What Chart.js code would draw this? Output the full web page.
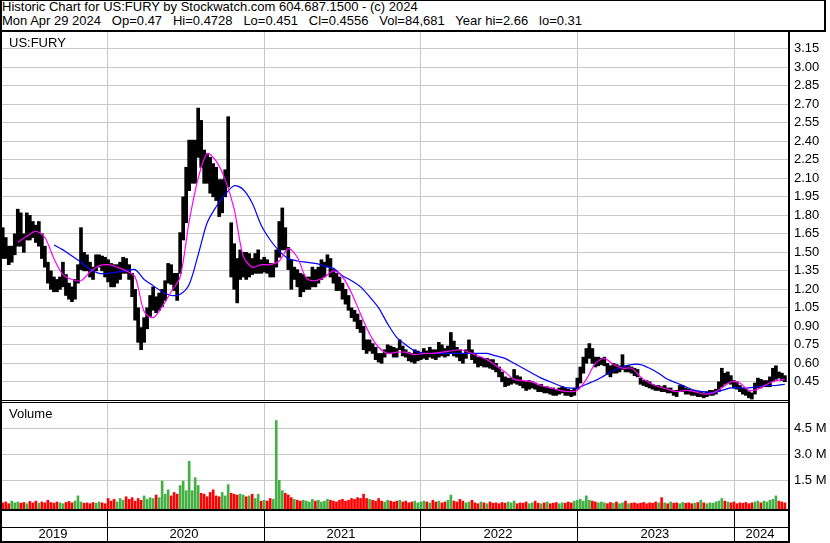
<!DOCTYPE html>
<html>
<head>
<meta charset="utf-8">
<script src="https://cdn.jsdelivr.net/npm/chart.js@4.4.1/dist/chart.umd.min.js"></script>
<style>
html,body{margin:0;padding:0;background:#fff;}
#wrap{position:relative;width:830px;height:543px;overflow:hidden;background:#fff;font-family:"Liberation Sans",Arial,sans-serif;}
.txt{position:absolute;font-size:13px;line-height:15px;white-space:pre;color:#000;}
.ln{position:absolute;background:#000;}
canvas{position:absolute;left:0;}
</style>
</head>
<body>
<div id="wrap">
  <canvas id="price" width="830" height="370" style="top:32px"></canvas>
  <canvas id="vol" width="830" height="142" style="top:401px"></canvas>
  <div class="txt" style="left:2px;top:-1px">Historic Chart for US:FURY by Stockwatch.com 604.687.1500 - (c) 2024</div>
  <div class="txt" style="left:2px;top:13px">Mon Apr 29 2024   Op=0.47   Hi=0.4728   Lo=0.451   Cl=0.4556   Vol=84,681   Year hi=2.66   lo=0.31</div>
  <div class="txt" style="left:9px;top:35px">US:FURY</div>
  <div class="txt" style="left:9px;top:406px">Volume</div>
  <!-- frame lines -->
  <div class="ln" style="left:0;top:0;width:2px;height:543px"></div>
  <div class="ln" style="left:0;top:0;width:826px;height:1px"></div>
  <div class="ln" style="left:824px;top:0;width:2px;height:32px"></div>
  <div class="ln" style="left:0;top:30px;width:826px;height:2px"></div>
  <div class="ln" style="left:788px;top:30px;width:2px;height:513px"></div>
  <div class="ln" style="left:0;top:400px;width:790px;height:1px"></div>
  <div class="ln" style="left:0;top:402px;width:790px;height:1px"></div>
  <div class="ln" style="left:0;top:509px;width:790px;height:2px"></div>
  <div class="ln" style="left:0;top:527px;width:790px;height:1px"></div>
  <div class="ln" style="left:0;top:541px;width:790px;height:2px"></div>
</div>
<script>
// ---------------- DATA ----------------
const firstWeek = [2019, 5, 3];          // first weekly bar (Y, M, D)
const weekCount = 261;

// weekly high / low prices (USD)
const priceHigh = [
1.70,1.62,1.55,1.55,1.65,1.85,1.82,1.65,1.82,1.80,
1.75,1.72,1.75,1.65,1.55,1.42,1.35,1.30,1.28,1.30,
1.42,1.32,1.25,1.22,1.28,1.40,1.70,1.50,1.48,1.42,
1.38,1.48,1.48,1.47,1.46,1.44,1.41,1.40,1.40,1.42,
1.46,1.45,1.40,1.33,1.20,1.05,0.89,0.97,1.05,1.15,
1.22,1.14,1.17,1.20,1.27,1.41,1.40,1.33,1.33,1.66,
1.95,2.19,2.41,2.41,2.41,2.67,2.57,2.33,2.30,2.27,
2.22,2.19,2.09,2.09,2.17,2.60,1.74,1.57,1.45,1.52,
1.50,1.50,1.49,1.45,1.49,1.52,1.44,1.46,1.44,1.41,
1.41,1.52,1.75,1.86,1.70,1.54,1.44,1.38,1.36,1.33,
1.32,1.30,1.30,1.38,1.36,1.38,1.44,1.42,1.48,1.45,
1.36,1.33,1.30,1.25,1.20,1.15,1.05,1.03,1.00,0.95,
0.90,0.79,0.79,0.76,0.73,0.68,0.68,0.71,0.75,0.74,
0.73,0.72,0.79,0.74,0.71,0.69,0.68,0.71,0.70,0.69,
0.72,0.70,0.73,0.71,0.71,0.77,0.75,0.72,0.74,0.85,
0.78,0.73,0.71,0.68,0.71,0.79,0.71,0.68,0.65,0.65,
0.64,0.64,0.63,0.63,0.60,0.57,0.53,0.49,0.48,0.48,
0.55,0.50,0.49,0.46,0.45,0.46,0.45,0.44,0.42,0.43,
0.41,0.41,0.40,0.40,0.39,0.40,0.41,0.40,0.39,0.38,
0.40,0.48,0.57,0.65,0.72,0.76,0.72,0.65,0.65,0.64,
0.65,0.60,0.58,0.60,0.59,0.58,0.67,0.58,0.58,0.57,
0.56,0.55,0.48,0.46,0.46,0.45,0.43,0.42,0.42,0.41,
0.42,0.40,0.40,0.38,0.38,0.42,0.42,0.40,0.39,0.38,
0.38,0.37,0.37,0.36,0.37,0.38,0.38,0.39,0.45,0.56,
0.52,0.53,0.50,0.46,0.45,0.42,0.40,0.39,0.37,0.36,
0.44,0.48,0.47,0.46,0.46,0.49,0.56,0.58,0.53,0.52,
0.50];
const priceLow = [
1.45,1.45,1.40,1.42,1.48,1.55,1.55,1.50,1.60,1.60,
1.62,1.58,1.55,1.45,1.38,1.25,1.20,1.18,1.18,1.20,
1.22,1.15,1.12,1.10,1.12,1.25,1.36,1.35,1.35,1.30,
1.28,1.35,1.38,1.35,1.30,1.26,1.22,1.22,1.25,1.28,
1.33,1.33,1.28,1.14,0.95,0.77,0.71,0.77,0.88,0.98,
1.03,1.01,1.03,1.06,1.11,1.25,1.24,1.19,1.11,1.33,
1.60,1.74,2.00,2.06,2.06,2.27,2.19,2.06,2.06,1.98,
1.95,1.92,1.79,1.82,1.95,2.03,1.30,1.20,1.09,1.28,
1.30,1.28,1.30,1.32,1.33,1.33,1.33,1.34,1.33,1.30,
1.30,1.38,1.46,1.52,1.52,1.36,1.20,1.28,1.22,1.14,
1.18,1.20,1.20,1.22,1.22,1.25,1.28,1.30,1.38,1.30,
1.25,1.19,1.19,1.12,1.08,1.03,0.97,0.94,0.88,0.85,
0.71,0.68,0.70,0.68,0.63,0.61,0.60,0.65,0.68,0.68,
0.65,0.65,0.71,0.66,0.65,0.62,0.61,0.60,0.62,0.63,
0.64,0.63,0.65,0.64,0.63,0.65,0.66,0.65,0.66,0.68,
0.66,0.65,0.62,0.60,0.64,0.68,0.63,0.60,0.57,0.58,
0.57,0.57,0.56,0.55,0.53,0.49,0.45,0.41,0.42,0.43,
0.44,0.43,0.42,0.40,0.38,0.39,0.40,0.39,0.37,0.37,
0.36,0.36,0.35,0.34,0.34,0.35,0.36,0.34,0.34,0.33,
0.34,0.39,0.44,0.52,0.60,0.64,0.60,0.57,0.58,0.59,
0.58,0.51,0.49,0.52,0.52,0.53,0.55,0.53,0.53,0.52,
0.50,0.49,0.43,0.42,0.41,0.40,0.39,0.38,0.38,0.37,
0.37,0.36,0.36,0.34,0.33,0.37,0.37,0.35,0.35,0.34,
0.34,0.33,0.33,0.32,0.33,0.34,0.34,0.35,0.37,0.41,
0.43,0.44,0.43,0.40,0.39,0.37,0.35,0.34,0.32,0.31,
0.35,0.40,0.40,0.41,0.41,0.41,0.45,0.47,0.48,0.46,
0.45];

// moving averages, sampled every 3 weeks
const maStep = 3;
const maFastStart = 5;
const maFast = [
1.58,1.63,1.67,1.62,1.45,1.32,1.28,1.27,1.34,1.39,
1.40,1.38,1.35,1.30,1.02,0.97,1.06,1.18,1.30,1.75,
2.10,2.30,2.24,2.09,1.85,1.47,1.38,1.40,1.40,1.43,
1.53,1.46,1.29,1.27,1.30,1.35,1.30,1.17,1.00,0.84,
0.73,0.68,0.69,0.69,0.67,0.68,0.68,0.69,0.70,0.71,
0.69,0.66,0.63,0.58,0.53,0.47,0.46,0.45,0.42,0.40,
0.38,0.37,0.38,0.47,0.60,0.64,0.59,0.56,0.56,0.49,
0.44,0.41,0.39,0.37,0.38,0.37,0.35,0.36,0.40,0.45,
0.44,0.38,0.39,0.43,0.46,0.47];
const maSlowStart = 17;
const maSlow = [
1.56,1.52,1.47,1.42,1.36,1.33,1.33,1.34,1.35,1.36,
1.28,1.23,1.18,1.15,1.16,1.24,1.48,1.74,1.87,1.97,
2.04,2.01,1.90,1.72,1.60,1.51,1.45,1.43,1.42,1.41,
1.39,1.37,1.31,1.27,1.22,1.14,1.05,0.92,0.81,0.75,
0.70,0.68,0.68,0.68,0.68,0.68,0.68,0.68,0.68,0.66,
0.64,0.60,0.56,0.52,0.48,0.45,0.42,0.40,0.40,0.43,
0.46,0.50,0.54,0.57,0.59,0.59,0.56,0.52,0.47,0.44,
0.41,0.38,0.37,0.36,0.38,0.40,0.40,0.40,0.41,0.42,
0.42,0.43];

// weekly volume (millions of shares)
const volume = [
0.20,0.25,0.15,0.30,0.20,0.25,0.18,0.22,0.15,0.28,
0.20,0.30,0.18,0.25,0.20,0.35,0.22,0.18,0.25,0.20,
0.15,0.22,0.28,0.20,0.30,0.60,0.25,0.18,0.20,0.15,
0.22,0.18,0.25,0.20,0.15,0.45,0.30,0.40,0.25,0.45,
0.35,0.55,0.40,0.50,0.30,0.45,0.35,0.60,0.40,0.50,
0.45,0.65,0.50,1.45,0.70,0.95,0.60,0.80,0.70,1.20,
1.45,0.90,2.60,0.90,1.65,1.20,0.75,0.70,0.55,0.80,
0.95,0.60,0.55,0.80,0.60,1.25,0.75,0.70,0.65,0.70,
0.65,0.55,0.60,0.70,0.45,0.70,0.30,0.35,0.30,0.45,
0.40,4.95,1.50,0.90,0.75,0.65,0.50,0.40,0.35,0.30,
0.35,0.30,0.25,0.40,0.30,0.35,0.25,0.30,0.40,0.35,
0.30,0.25,0.35,0.40,0.30,0.35,0.45,0.40,0.50,0.45,
0.70,0.45,0.40,0.35,0.30,0.45,0.30,0.25,0.35,0.30,
0.25,0.30,0.35,0.25,0.30,0.20,0.25,0.30,0.20,0.25,
0.30,0.25,0.20,0.35,0.25,0.30,0.20,0.25,0.35,0.65,
0.30,0.25,0.40,0.30,0.20,0.25,0.35,0.20,0.15,0.25,
0.20,0.15,0.25,0.18,0.20,0.15,0.22,0.18,0.25,0.20,
0.30,0.15,0.20,0.18,0.25,0.15,0.20,0.30,0.18,0.15,
0.20,0.25,0.15,0.18,0.22,0.15,0.20,0.18,0.25,0.20,
0.30,0.35,0.40,0.30,0.60,0.35,0.30,0.25,0.20,0.25,
0.20,0.15,0.22,0.18,0.25,0.15,0.20,0.30,0.15,0.18,
0.20,0.15,0.18,0.22,0.15,0.20,0.18,0.25,0.20,0.50,
0.20,0.15,0.25,0.18,0.20,0.15,0.22,0.18,0.20,0.15,
0.18,0.22,0.35,0.20,0.15,0.20,0.18,0.25,0.30,0.45,
0.30,0.25,0.20,0.25,0.15,0.20,0.18,0.22,0.15,0.20,
0.25,0.30,0.20,0.30,0.25,0.35,0.40,0.60,0.30,0.25,
0.20];

const priceTicks = [0.45,0.60,0.75,0.90,1.05,1.20,1.35,1.50,1.65,1.80,1.95,2.10,2.25,2.40,2.55,2.70,2.85,3.00,3.15];
const volumeTicks = [1.5,3.0,4.5];
const yearLabels = ['2019','2020','2021','2022','2023','2024'];

// ---------------- SCALE SETTINGS ----------------
const X_MIN = 2019.331, X_MAX = 2024.338;
const P_MIN = 0.3024, P_MAX = 3.287;
const V_MIN = -0.156, V_MAX = 5.96;
const FONT = '"Liberation Sans", Arial, sans-serif';
const GRID = '#c8c8c8';

// ---------------- HELPERS ----------------
function yearFrac(d) {
  const y = d.getFullYear();
  const a = new Date(y, 0, 1), b = new Date(y + 1, 0, 1);
  return y + (d - a) / (b - a);
}
const weekX = [];
for (let i = 0; i < weekCount; i++) {
  const d = new Date(firstWeek[0], firstWeek[1] - 1, firstWeek[2] + 7 * i, 12);
  weekX.push(yearFrac(d));
}
const barPts = weekX.map((x, i) => ({x, y: [priceLow[i], priceHigh[i]]}));
const fastPts = maFast.map((v, k) => ({x: weekX[maFastStart + k * maStep], y: v}));
const slowPts = maSlow.map((v, k) => ({x: weekX[maSlowStart + k * maStep], y: v}));
const volPts = weekX.map((x, i) => ({x, y: volume[i]}));
const volColors = weekX.map((x, i) => {
  if (i === 0) return '#ff0000';
  const m = priceLow[i] + priceHigh[i], p = priceLow[i - 1] + priceHigh[i - 1];
  return m >= p ? '#44b044' : '#ff0000';
});
const boundaries = [];
for (let y = 2020; y <= 2024; y++) boundaries.push(y);
const xTicks = boundaries.map(v => ({value: v, b: true}));
yearLabels.forEach(lbl => {
  const y = +lbl;
  const lo = Math.max(y, X_MIN), hi = Math.min(y + 1, X_MAX);
  xTicks.push({value: (lo + hi) / 2 - 0.01, b: false, lbl});
});
xTicks.sort((a, b) => a.value - b.value);

Chart.defaults.font.family = FONT;
Chart.defaults.font.size = 13;
Chart.defaults.color = '#000';

// ---------------- PRICE PANEL ----------------
new Chart(document.getElementById('price'), {
  type: 'bar',
  data: {
    datasets: [
      {type: 'line', data: fastPts, borderColor: '#ff00ff', borderWidth: 1.2, pointRadius: 0, tension: 0.3, order: 0},
      {type: 'line', data: slowPts, borderColor: '#0000ff', borderWidth: 1.2, pointRadius: 0, tension: 0.3, order: 1},
      {type: 'bar', data: barPts, backgroundColor: '#000', barThickness: 3, order: 2}
    ]
  },
  options: {
    responsive: false, animation: false, devicePixelRatio: 1,
    layout: {padding: {left: 2, top: 0, right: 0, bottom: 2}},
    plugins: {legend: {display: false}, tooltip: {enabled: false}},
    scales: {
      x: {
        type: 'linear', min: X_MIN, max: X_MAX, offset: false,
        afterBuildTicks: s => { s.ticks = boundaries.map(v => ({value: v})); },
        ticks: {display: false},
        grid: {color: GRID, drawTicks: false, offset: false},
        border: {display: false},
        afterFit: s => { s.height = 0; s.paddingLeft = 0; s.paddingRight = 0; }
      },
      y: {
        position: 'right', min: P_MIN, max: P_MAX,
        afterBuildTicks: s => { s.ticks = priceTicks.map(v => ({value: v})); },
        ticks: {callback: v => Number(v).toFixed(2), padding: 6, color: '#000', font: {family: FONT, size: 13}},
        grid: {color: GRID, drawTicks: false},
        border: {display: false},
        afterFit: s => { s.width = 42; s.paddingTop = 0; s.paddingBottom = 0; }
      }
    }
  }
});

// ---------------- VOLUME PANEL ----------------
new Chart(document.getElementById('vol'), {
  type: 'bar',
  data: {
    datasets: [
      {data: volPts, backgroundColor: volColors, barThickness: 2, base: V_MIN}
    ]
  },
  options: {
    responsive: false, animation: false, devicePixelRatio: 1,
    layout: {padding: {left: 2, top: 2, right: 0, bottom: 0}},
    plugins: {legend: {display: false}, tooltip: {enabled: false}},
    scales: {
      x: {
        type: 'linear', min: X_MIN, max: X_MAX, offset: false,
        afterBuildTicks: s => { s.ticks = xTicks.map(t => Object.assign({}, t)); },
        ticks: {autoSkip: false, maxRotation: 0, minRotation: 0, padding: -14, color: '#000',
                font: {family: FONT, size: 13},
                callback: (v, i, ticks) => ticks[i].lbl || ''},
        grid: {
          offset: false,
          color: c => (c.tick && c.tick.b) ? GRID : 'rgba(0,0,0,0)',
          tickColor: c => (c.tick && c.tick.b) ? '#000' : 'rgba(0,0,0,0)',
          tickLength: 32, tickWidth: 1
        },
        border: {display: false},
        afterFit: s => { s.height = 34; s.paddingLeft = 0; s.paddingRight = 0; }
      },
      y: {
        position: 'right', min: V_MIN, max: V_MAX,
        afterBuildTicks: s => { s.ticks = volumeTicks.map(v => ({value: v})); },
        ticks: {callback: v => Number(v).toFixed(1) + ' M', padding: 6, color: '#000', font: {family: FONT, size: 13}},
        grid: {color: GRID, drawTicks: false},
        border: {display: false},
        afterFit: s => { s.width = 42; s.paddingTop = 0; s.paddingBottom = 0; }
      }
    }
  }
});
</script>
</body>
</html>
